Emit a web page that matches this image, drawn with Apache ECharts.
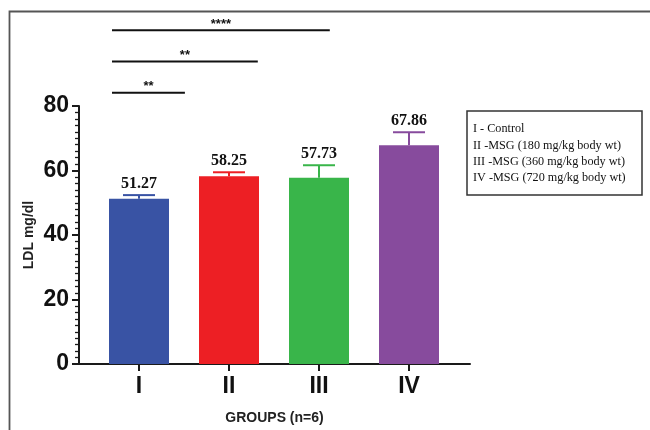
<!DOCTYPE html>
<html>
<head>
<meta charset="utf-8">
<script src="https://cdn.jsdelivr.net/npm/echarts@6/dist/echarts.min.js"></script>
<style>
  html, body { margin: 0; padding: 0; background: #fff; }
  #chart { width: 650px; height: 430px; }
</style>
</head>
<body>
<div id="chart"></div>
<script>
// Group labels and LDL results (mean and SEM, mg/dl)
const groups = ['I', 'II', 'III', 'IV'];
const ldlMean = [51.27, 58.25, 57.73, 67.86];
const ldlErr = [1.1, 1.2, 3.9, 4.0];

// Descriptions of the treatment groups
const groupNotes = [
  'I - Control',
  'II -MSG (180 mg/kg body wt)',
  'III -MSG (360 mg/kg body wt)',
  'IV -MSG (720 mg/kg body wt)'
];

// Significance brackets: span along the group axis, height in mg/dl, label
const sigStart = [-0.3, -0.3, -0.3];
const sigEnd = [0.51, 1.32, 2.12];
const sigLevel = [84.1, 93.8, 103.5];
const sigLabel = ['**', '**', '****'];

// Y axis tick values
const yTicks = [0, 20, 40, 60, 80];

const palette = ['#3953a4', '#ed1f24', '#39b54a', '#874b9d'];
const axisColor = '#1a1a1a';

const chart = echarts.init(document.getElementById('chart'), null, { renderer: 'canvas' });

const option = {
  animation: false,
  backgroundColor: '#ffffff',
  title: {
    text: groupNotes.join('\n'),
    left: 467,
    top: 111,
    padding: [10, 17, 9, 6],
    borderColor: '#333',
    borderWidth: 1.5,
    textStyle: {
      fontFamily: 'Liberation Serif, Times New Roman, serif',
      fontSize: 12.2,
      fontWeight: 'normal',
      color: '#111',
      lineHeight: 16.3
    }
  },
  graphic: [{
    type: 'rect',
    silent: true,
    shape: { x: 9.5, y: 11.5, width: 700, height: 500 },
    style: { fill: 'none', stroke: '#555', lineWidth: 1.8 }
  }],
  grid: { left: 79, right: 180, top: 106, bottom: 63, containLabel: false },
  xAxis: {
    type: 'value',
    min: -2 / 3,
    max: -2 / 3 + 391 / 90,
    splitLine: { show: false },
    axisLine: { show: true, onZero: false, lineStyle: { color: axisColor, width: 2 } },
    axisTick: {
      show: true,
      customValues: [0, 1, 2, 3],
      length: 7,
      lineStyle: { color: axisColor, width: 2 }
    },
    axisLabel: {
      customValues: [0, 1, 2, 3],
      formatter: v => groups[Math.round(v)] || '',
      margin: 11,
      fontFamily: 'Liberation Sans, Arial, sans-serif',
      fontWeight: 'bold',
      fontSize: 23,
      color: '#111'
    },
    name: 'GROUPS (n=6)',
    nameLocation: 'middle',
    nameGap: 47,
    nameMoveOverlap: false,
    nameTextStyle: {
      fontFamily: 'Liberation Sans, Arial, sans-serif',
      fontWeight: 'bold',
      fontSize: 14,
      color: '#222'
    }
  },
  yAxis: {
    type: 'value',
    min: yTicks[0],
    max: yTicks[yTicks.length - 1],
    interval: 20,
    splitLine: { show: false },
    axisLine: { show: true, onZero: false, lineStyle: { color: axisColor, width: 2 } },
    axisTick: { show: true, length: 7, lineStyle: { color: axisColor, width: 2 } },
    minorTick: { show: true, splitNumber: 10, length: 4, lineStyle: { color: axisColor, width: 1.3 } },
    axisLabel: {
      margin: 10,
      fontFamily: 'Liberation Sans, Arial, sans-serif',
      fontWeight: 'bold',
      fontSize: 23,
      color: '#111'
    },
    name: 'LDL mg/dl',
    nameLocation: 'middle',
    nameGap: 43,
    nameMoveOverlap: false,
    nameTextStyle: {
      fontFamily: 'Liberation Sans, Arial, sans-serif',
      fontWeight: 'bold',
      fontSize: 14,
      color: '#222'
    }
  },
  series: [
    {
      type: 'bar',
      barWidth: 60,
      data: ldlMean.map((v, i) => ({ value: [i, v], itemStyle: { color: palette[i] } })),
      z: 2
    },
    {
      // Error bars (upper whisker) and value labels
      type: 'custom',
      clip: false,
      z: 3,
      data: ldlMean.map((v, i) => [i, v, ldlErr[i]]),
      renderItem: (params, api) => {
        const i = api.value(0);
        const mean = api.value(1);
        const err = api.value(2);
        const base = api.coord([i, mean]);
        const top = api.coord([i, mean + err]);
        const capHalf = 16;
        const color = palette[params.dataIndex];
        return {
          type: 'group',
          children: [
            { type: 'line', shape: { x1: base[0], y1: base[1], x2: top[0], y2: top[1] },
              style: { stroke: color, lineWidth: 2 } },
            { type: 'line', shape: { x1: top[0] - capHalf, y1: top[1], x2: top[0] + capHalf, y2: top[1] },
              style: { stroke: color, lineWidth: 2 } },
            { type: 'text', x: top[0], y: top[1] - 11,
              style: { text: mean.toFixed(2), align: 'center', verticalAlign: 'middle',
                font: 'bold 16px "Liberation Serif", "Times New Roman", serif', fill: '#111' } }
          ]
        };
      }
    },
    {
      // Significance brackets above the bars
      type: 'custom',
      clip: false,
      z: 3,
      data: sigLevel.map((lv, k) => [sigStart[k], sigEnd[k], lv]),
      renderItem: (params, api) => {
        const a = api.coord([api.value(0), api.value(2)]);
        const b = api.coord([api.value(1), api.value(2)]);
        return {
          type: 'group',
          children: [
            { type: 'line', shape: { x1: a[0], y1: a[1], x2: b[0], y2: b[1] },
              style: { stroke: '#111', lineWidth: 2 } },
            { type: 'text', x: (a[0] + b[0]) / 2, y: a[1] - 6,
              style: { text: sigLabel[params.dataIndex], align: 'center', verticalAlign: 'middle',
                font: 'bold 13px "Liberation Sans", Arial, sans-serif', fill: '#111' } }
          ]
        };
      }
    }
  ]
};

chart.setOption(option);
</script>
</body>
</html>
